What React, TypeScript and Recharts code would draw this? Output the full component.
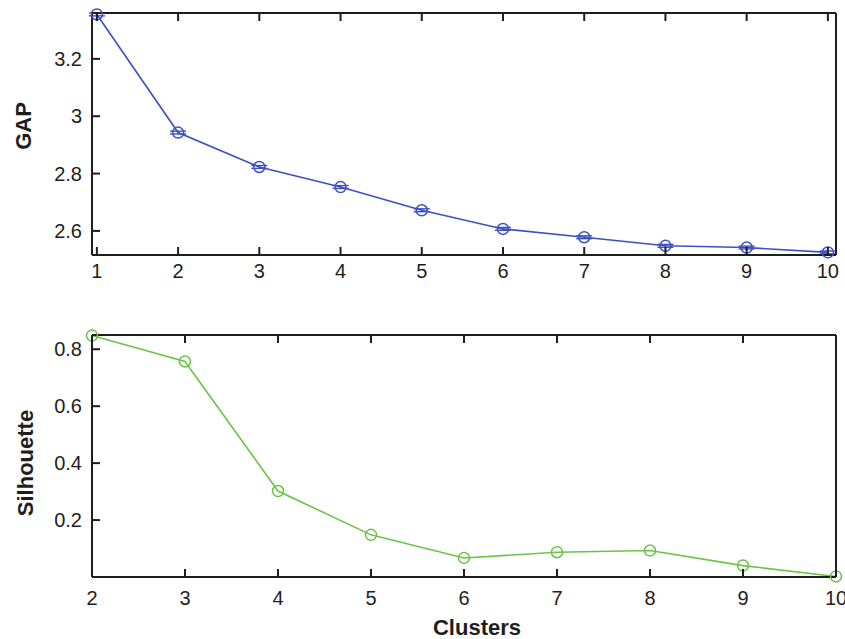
import { LineChart, Line, XAxis, YAxis, ErrorBar } from "recharts";

// top panel: gap statistic per number of clusters
const gapClusters = [1, 2, 3, 4, 5, 6, 7, 8, 9, 10];
const gapValues = [3.355, 2.943, 2.823, 2.753, 2.672, 2.607, 2.578, 2.548, 2.542, 2.525];
const gapErrors = [0.005, 0.005, 0.005, 0.005, 0.005, 0.005, 0.005, 0.005, 0.005, 0.005];
const gapYTicks = [2.6, 2.8, 3, 3.2];

// bottom panel: silhouette per number of clusters
const silClusters = [2, 3, 4, 5, 6, 7, 8, 9, 10];
const silValues = [0.848, 0.757, 0.302, 0.148, 0.067, 0.087, 0.093, 0.04, 0.002];
const silYTicks = [0.2, 0.4, 0.6, 0.8];

const BLUE = "#3d50c3";
const GREEN = "#6cc447";
const INK = "#1e1e1e";
const FONT = "'Liberation Sans', Arial, sans-serif";
const TICK_LEN = 8;

const labelStyle = { fill: INK, fontSize: 20, fontFamily: FONT };
const titleStyle = { fill: INK, fontSize: 22, fontWeight: 700, fontFamily: FONT };

// matlab-like inward ticks; tickSize is 0 so the axis sits at y - margin
const bottomTick = (margin: number) => (p: any) => (
  <g>
    <line x1={p.x} x2={p.x} y1={p.y - margin} y2={p.y - margin - TICK_LEN} stroke={INK} strokeWidth={2} />
    <text x={p.x} y={p.y} dy="0.71em" textAnchor="middle" style={labelStyle}>
      {p.payload.value}
    </text>
  </g>
);

const topTick = (p: any) => (
  <g>
    <line x1={p.x} x2={p.x} y1={p.y} y2={p.y + TICK_LEN} stroke={INK} strokeWidth={2} />
  </g>
);

const leftTick = (margin: number) => (p: any) => (
  <g>
    <line x1={p.x + margin} x2={p.x + margin + TICK_LEN} y1={p.y} y2={p.y} stroke={INK} strokeWidth={2} />
    <text x={p.x} y={p.y} dy="0.355em" textAnchor="end" style={labelStyle}>
      {p.payload.value}
    </text>
  </g>
);

const rightTick = (p: any) => (
  <g>
    <line x1={p.x} x2={p.x - TICK_LEN} y1={p.y} y2={p.y} stroke={INK} strokeWidth={2} />
  </g>
);

function RotLabel({ x, y, text }: { x: number; y: number; text: string }) {
  return (
    <text
      x={x}
      y={y}
      transform={`rotate(-90 ${x} ${y})`}
      textAnchor="middle"
      dominantBaseline="central"
      style={titleStyle}
    >
      {text}
    </text>
  );
}

export default function App() {
  const gapData = gapClusters.map((k, i) => ({
    k,
    gap: gapValues[i],
    err: gapErrors[i],
  }));
  const silData = silClusters.map((k, i) => ({ k, sil: silValues[i] }));

  const axisLine = { stroke: INK, strokeWidth: 2 };

  return (
    <div
      style={{
        position: "absolute",
        left: 0,
        top: 0,
        width: 845,
        height: 639,
        background: "#fff",
      }}
    >
      <div style={{ position: "absolute", left: 0, top: 0 }}>
        <LineChart
          width={845}
          height={290}
          data={gapData}
          margin={{ top: 12, right: 8, bottom: 0, left: 0 }}
        >
          <XAxis
            dataKey="k"
            type="number"
            domain={[0.94, 10.1]}
            ticks={gapClusters}
            tickSize={0}
            tickMargin={9}
            height={35}
            axisLine={axisLine}
            tickLine={false}
            tick={bottomTick(9)}
          />
          <XAxis
            xAxisId="top"
            orientation="top"
            dataKey="k"
            type="number"
            domain={[0.94, 10.1]}
            ticks={gapClusters}
            tickSize={0}
            tickMargin={0}
            height={1}
            axisLine={axisLine}
            tickLine={false}
            tick={topTick}
          />
          <YAxis
            type="number"
            domain={[2.516, 3.36]}
            ticks={gapYTicks}
            width={92}
            tickSize={0}
            tickMargin={10}
            axisLine={axisLine}
            tickLine={false}
            tick={leftTick(10)}
            label={{ content: () => <RotLabel x={23} y={126} text="GAP" /> }}
          />
          <YAxis
            yAxisId="right"
            orientation="right"
            type="number"
            domain={[2.516, 3.36]}
            ticks={gapYTicks}
            width={1}
            tickSize={0}
            tickMargin={0}
            axisLine={axisLine}
            tickLine={false}
            tick={rightTick}
          />
          <Line
            dataKey="gap"
            stroke={BLUE}
            strokeWidth={1.6}
            dot={{ r: 5.5, stroke: BLUE, strokeWidth: 1.5, fill: "none" }}
            isAnimationActive={false}
          >
            <ErrorBar dataKey="err" direction="y" width={8} stroke={BLUE} strokeWidth={1.4} />
          </Line>
        </LineChart>
      </div>

      <div style={{ position: "absolute", left: 0, top: 300 }}>
        <LineChart
          width={845}
          height={339}
          data={silData}
          margin={{ top: 34, right: 8, bottom: 0, left: 0 }}
        >
          <XAxis
            dataKey="k"
            type="number"
            domain={[2, 10]}
            ticks={silClusters}
            tickSize={0}
            tickMargin={14}
            height={62}
            axisLine={axisLine}
            tickLine={false}
            tick={bottomTick(14)}
            label={{
              content: () => (
                <text x={477} y={327} textAnchor="middle" dominantBaseline="central" style={titleStyle}>
                  Clusters
                </text>
              ),
            }}
          />
          <XAxis
            xAxisId="top"
            orientation="top"
            dataKey="k"
            type="number"
            domain={[2, 10]}
            ticks={silClusters}
            tickSize={0}
            tickMargin={0}
            height={1}
            axisLine={axisLine}
            tickLine={false}
            tick={topTick}
          />
          <YAxis
            type="number"
            domain={[0, 0.85]}
            ticks={silYTicks}
            width={92}
            tickSize={0}
            tickMargin={10}
            axisLine={axisLine}
            tickLine={false}
            tick={leftTick(10)}
            label={{ content: () => <RotLabel x={25} y={163} text="Silhouette" /> }}
          />
          <YAxis
            yAxisId="right"
            orientation="right"
            type="number"
            domain={[0, 0.85]}
            ticks={silYTicks}
            width={1}
            tickSize={0}
            tickMargin={0}
            axisLine={axisLine}
            tickLine={false}
            tick={rightTick}
          />
          <Line
            dataKey="sil"
            stroke={GREEN}
            strokeWidth={1.6}
            dot={{ r: 5.5, stroke: GREEN, strokeWidth: 1.5, fill: "none" }}
            isAnimationActive={false}
          />
        </LineChart>
      </div>
    </div>
  );
}
